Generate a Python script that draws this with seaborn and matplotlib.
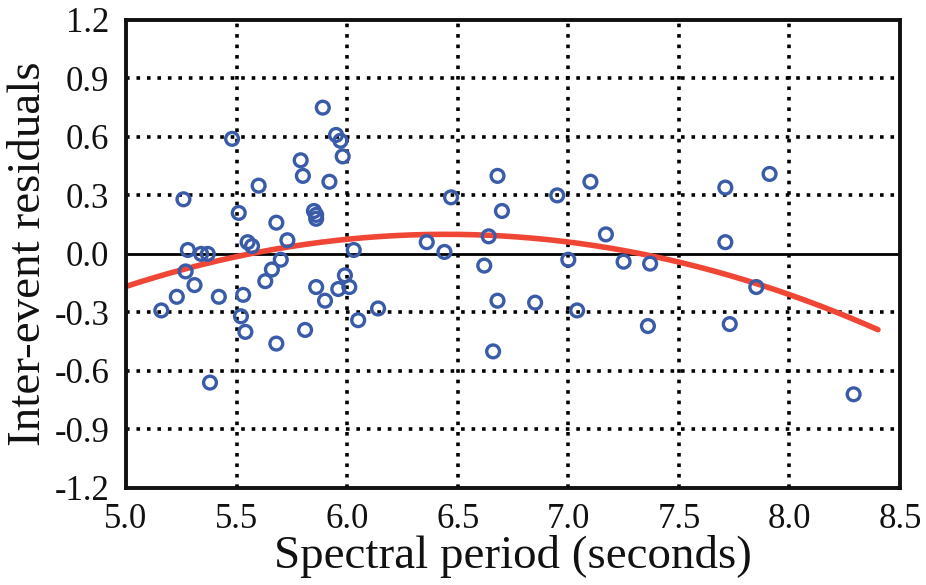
import numpy as np
import pandas as pd
import matplotlib
matplotlib.use("Agg")
import matplotlib.pyplot as plt
import seaborn as sns

# Spectral period (s) and inter-event residual for each event
period = [5.16, 5.23, 5.26, 5.27, 5.28, 5.31, 5.34, 5.37, 5.38, 5.42,
          5.48, 5.51, 5.52, 5.53, 5.54, 5.55, 5.57, 5.60, 5.63, 5.66,
          5.68, 5.68, 5.70, 5.73, 5.79, 5.80, 5.81, 5.85, 5.86, 5.86,
          5.86, 5.89, 5.90, 5.92, 5.95, 5.96, 5.97, 5.98, 5.99, 6.01,
          6.03, 6.05, 6.14, 6.36, 6.44, 6.47, 6.62, 6.64, 6.66, 6.68,
          6.68, 6.70, 6.85, 6.95, 7.00, 7.04, 7.10, 7.17, 7.25, 7.36,
          7.37, 7.71, 7.71, 7.73, 7.85, 7.91, 8.29]
residual = [-0.29, -0.22, 0.28, -0.09, 0.02, -0.16, 0.00, 0.00, -0.66, -0.22,
            0.59, 0.21, -0.32, -0.21, -0.40, 0.06, 0.04, 0.35, -0.14, -0.08,
            0.16, -0.46, -0.03, 0.07, 0.48, 0.40, -0.39, 0.22, 0.20, 0.18,
            -0.17, 0.75, -0.24, 0.37, 0.61, -0.18, 0.58, 0.50, -0.11, -0.17,
            0.02, -0.34, -0.28, 0.06, 0.01, 0.29, -0.06, 0.09, -0.50, 0.40,
            -0.24, 0.22, -0.25, 0.30, -0.03, -0.29, 0.37, 0.10, -0.04, -0.37,
            -0.05, 0.34, 0.06, -0.36, -0.17, 0.41, -0.72]

# Quadratic trend of residual vs period (c2*T^2 + c1*T + c0)
trend_coeffs = [-0.128, 1.650, -5.217]
trend_range = [5.0, 8.4]

x_ticks = [5.0, 5.5, 6.0, 6.5, 7.0, 7.5, 8.0, 8.5]
y_ticks = [-1.2, -0.9, -0.6, -0.3, 0.0, 0.3, 0.6, 0.9, 1.2]

sns.set_theme(style="white")
plt.rcParams["font.family"] = ["Liberation Serif", "DejaVu Serif"]

df = pd.DataFrame({"period": period, "residual": residual})
t = np.linspace(trend_range[0], trend_range[1], 200)
trend = pd.DataFrame({"period": t, "residual": np.polyval(trend_coeffs, t)})

fig = plt.figure(figsize=(9.26, 5.85), dpi=100)
ax = fig.add_axes([0.136, 0.166, 0.836, 0.800])

# dotted grid
grid_style = dict(color="black", linewidth=2.6, linestyle=(0, (1.0, 1.9)), zorder=1)
for xv in x_ticks[1:-1]:
    ax.axvline(xv, **grid_style)
for yv in y_ticks[1:-1]:
    if yv != 0.0:
        ax.axhline(yv, **grid_style)
ax.axhline(0.0, color="black", linewidth=2.0, zorder=2)

sns.lineplot(data=trend, x="period", y="residual", ax=ax, color="#ef4636",
             linewidth=4.0, zorder=3)
sns.scatterplot(data=df, x="period", y="residual", ax=ax, marker="o", s=85,
                facecolors="none", edgecolor="#3a5ca8", linewidth=2.4, zorder=4)

ax.set_xlim(5.0, 8.5)
ax.set_ylim(-1.2, 1.2)
ax.set_xticks(x_ticks)
ax.set_yticks(y_ticks)
ax.set_xticklabels([f"{v:.1f}" for v in x_ticks])
ax.set_yticklabels([f"{v:.1f}".replace("-0.0", "0.0") for v in y_ticks])
ax.tick_params(axis="x", length=0, labelsize=25, pad=11, colors="#111111")
ax.tick_params(axis="y", length=0, labelsize=25, pad=12, colors="#111111")
ax.set_xlabel("Spectral period (seconds)", fontsize=33.8, labelpad=-1, color="#111111")
ax.set_ylabel("Inter-event residuals", fontsize=33.8, labelpad=3, color="#111111")

for sp in ax.spines.values():
    sp.set_visible(True)
    sp.set_color("#111111")
    sp.set_linewidth(2.8)
    sp.set_zorder(5)

fig.savefig("out.png", dpi=100, facecolor="white")
